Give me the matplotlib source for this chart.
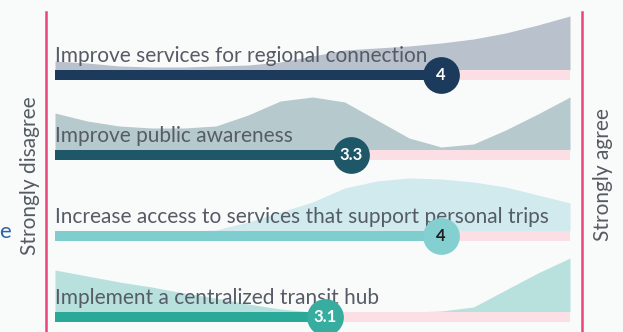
import matplotlib
matplotlib.use("Agg")
import matplotlib.pyplot as plt

plt.rcParams['font.family'] = ['Lato', 'DejaVu Sans']

# Survey items, mean score (1 = strongly disagree, 5 = strongly agree)
items = [
    "Improve services for regional connection",
    "Improve public awareness",
    "Increase access to services that support personal trips",
    "Implement a centralized transit hub",
]
means = [4.0, 3.3, 4.0, 3.1]
mean_labels = ["4", "3.3", "4", "3.1"]

# Response distribution shape read at score 1.00, 1.25, ... 5.00
score_grid = [1.0, 1.25, 1.5, 1.75, 2.0, 2.25, 2.5, 2.75, 3.0,
              3.25, 3.5, 3.75, 4.0, 4.25, 4.5, 4.75, 5.0]
dist_regional = [9, 7, 4, 3, 3, 4, 5, 8, 14, 20, 22, 24, 27, 31, 37, 45, 54]
dist_awareness = [37, 29, 24, 22, 22, 24, 35, 49, 53, 48, 30, 12, 3, 6, 20, 36, 53]
dist_personal = [0, 0, 0, 0, 0, 1, 9, 19, 29, 43, 50, 53, 52, 49, 44, 36, 28]
dist_hub = [42, 36, 30, 25, 19, 14, 8, 3, 0, 0, 0, 0, 1, 5, 22, 39, 54]
dists = [dist_regional, dist_awareness, dist_personal, dist_hub]

bar_colors = ['#1b3a5c', '#1e5768', '#7fcdce', '#2aa898']
area_colors = ['#b9c1cc', '#b6c9cd', '#d0eaed', '#b8e1de']
dot_colors = ['#1b3a5c', '#1e5768', '#84cfd0', '#36ad9e']
dot_text = ['white', 'white', '#1e1e1e', 'white']

W, H = 623, 332
fig = plt.figure(figsize=(W / 100, H / 100), dpi=100, facecolor='#f9fafa')
ax = fig.add_axes([0, 0, 1, 1])
ax.set_facecolor('#f9fafa')

# pixel mapping: score 1 -> x=55, score 5 -> x=570
px_per = (570 - 55) / 4
ax.set_xlim(1 - 55 / px_per, 1 + (W - 55) / px_per)
ax.set_ylim(H, 0)
ax.axis('off')

bar_tops = [70, 150, 231, 312]
bar_h = 10

for i, item in enumerate(items):
    top = bar_tops[i]
    ytop = [top - d for d in dists[i]]
    ax.fill_between(score_grid, ytop, top, color=area_colors[i], lw=0, zorder=1)
    ax.text(1, top - 8, item, fontsize=15, color='#555c66', ha='left', va='baseline', zorder=3)
    ax.barh(top + bar_h / 2, 5 - means[i], left=means[i], height=bar_h, color='#fbdfe5', zorder=2)
    ax.barh(top + bar_h / 2, means[i] - 1, left=1, height=bar_h, color=bar_colors[i], zorder=2)
    ax.scatter([means[i]], [top + bar_h / 2], s=700, color=dot_colors[i], zorder=4, linewidths=0)
    ax.text(means[i], top + bar_h / 2, mean_labels[i], fontsize=12, color=dot_text[i],
            ha='center', va='center', fontweight='bold', zorder=5)

# end markers
for xv in [1 + (46 - 55) / px_per, 1 + (582 - 55) / px_per]:
    ax.plot([xv, xv], [12, H], color='#e8457a', lw=1.8, zorder=3)

fig.text(30 / W, 1 - 176 / H, "Strongly disagree", rotation=90, fontsize=15, color='#555b63',
         ha='center', va='center')
fig.text(603 / W, 1 - 175 / H, "Strongly agree", rotation=90, fontsize=15, color='#555b63',
         ha='center', va='center')
fig.text(5 / W, 1 - 232 / H, "e", fontsize=16, color='#2e63a8', ha='center', va='center')

fig.savefig('out.png', dpi=100, facecolor=fig.get_facecolor())
